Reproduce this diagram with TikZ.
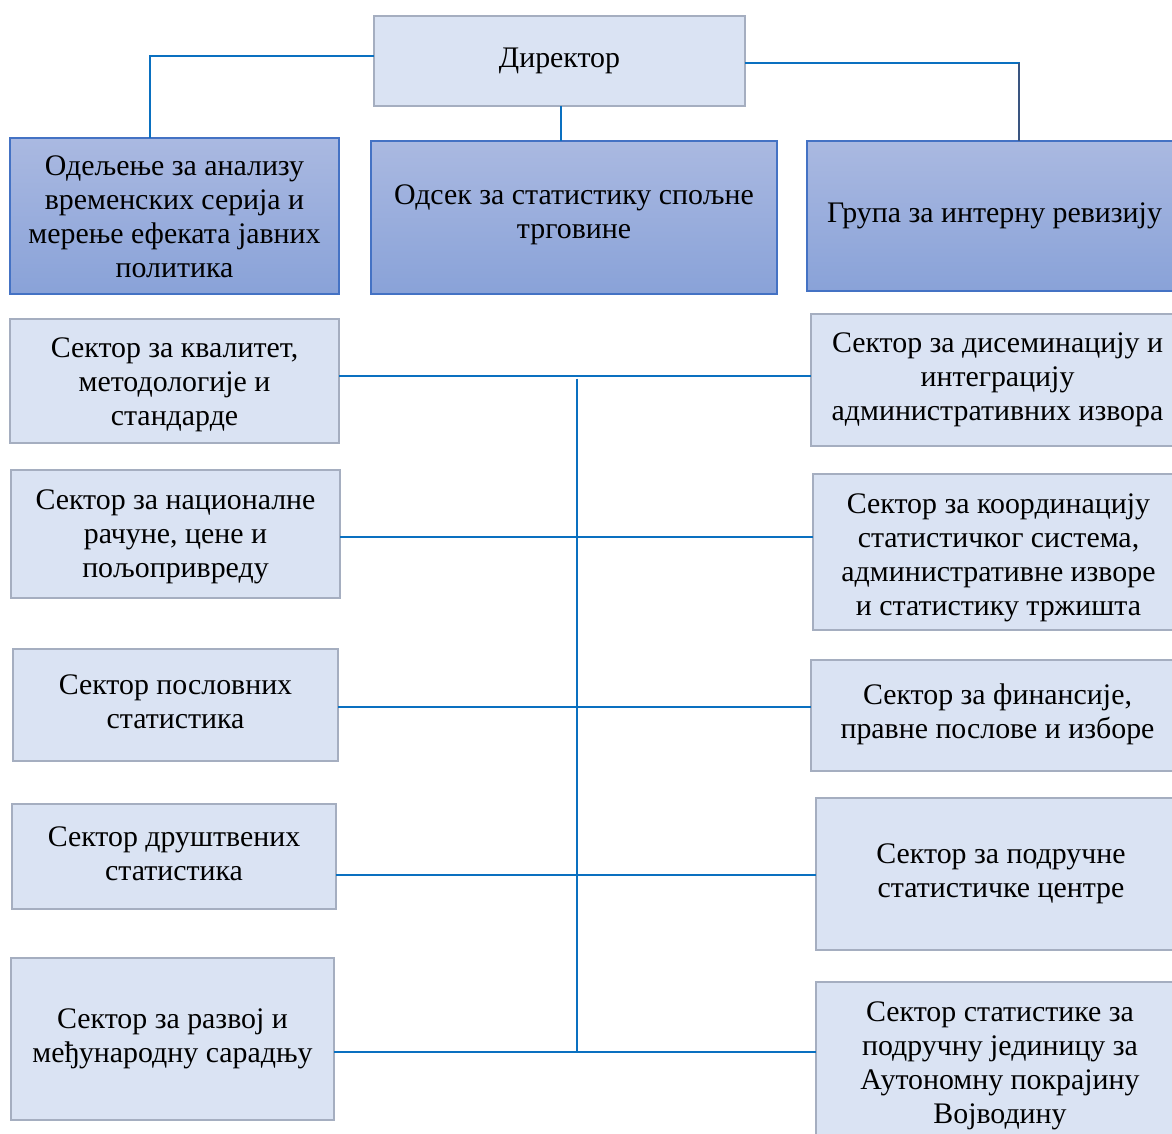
\documentclass[tikz,border=0pt]{standalone}
\usepackage{fontspec}
\setmainfont{Liberation Serif}
\usetikzlibrary{calc}
\definecolor{lightfill}{HTML}{DAE3F3}
\definecolor{lightbord}{HTML}{A5AEC0}
\definecolor{gtop}{HTML}{AAB9E1}
\definecolor{gbot}{HTML}{89A2D8}
\definecolor{darkbord}{HTML}{4472C4}
\definecolor{conn}{HTML}{0A70C0}
\definecolor{conndark}{HTML}{3A5580}
% #1 name, #2-#5 corners (px), #6 style, #7 text offset (px, down), #8 text
\newcommand\orgbox[8]{%
  \node[#6, minimum width={(#4-#2)*0.75pt}, minimum height={(#5-#3)*0.75pt}] (#1) at ({(#2+#4)/2},{(#3+#5)/2}) {};
  \node[boxtext] (#1-t) at ([yshift={-(#7)*0.75pt}]#1.center) {#8};}
\tikzset{
  boxtext/.style={font=\fontsize{22.4}{25.5}\selectfont, align=center, inner sep=0pt, outer sep=0pt, text=black},
  lightbox/.style={draw=lightbord, line width=2pt, fill=lightfill, inner sep=0pt, outer sep=0pt},
  gradbox/.style={draw=darkbord, line width=1pt, top color=gtop, bottom color=gbot, inner sep=0pt, outer sep=0pt},
  link/.style={draw=conn, line width=1.3pt},
}
\begin{document}
\begin{tikzpicture}[x=0.75pt, y=-0.75pt]
\useasboundingbox (0,0) rectangle (1172,1134);
\clip (0,0) rectangle (1172,1134);
\fill[white] (0,0) rectangle (1172,1134);
% top
\orgbox{dir}{374}{16}{745}{106}{lightbox}{0}{Директор}
\orgbox{odel}{10}{138}{339}{294}{gradbox}{1}{Одељење за анализу\\временских серија и\\мерење ефеката јавних\\политика}
\orgbox{odsek}{371}{141}{777}{294}{gradbox}{-3}{Одсек за статистику спољне\\трговине}
\orgbox{grupa}{807}{141}{1182}{291}{gradbox}{0}{Група за интерну ревизију}
% left column
\orgbox{kval}{10}{319}{339}{443}{lightbox}{4}{Сектор за квалитет,\\методологије и\\стандарде}
\orgbox{nac}{11}{470}{340}{598}{lightbox}{3}{Сектор за националне\\рачуне, цене и\\пољопривреду}
\orgbox{posl}{13}{649}{338}{761}{lightbox}{-3}{Сектор пословних\\статистика}
\orgbox{drus}{12}{804}{336}{909}{lightbox}{-3}{Сектор друштвених\\статистика}
\orgbox{razv}{11}{958}{334}{1120}{lightbox}{0}{Сектор за развој и\\међународну сарадњу}
% right column
\orgbox{dis}{811}{314}{1184}{446}{lightbox}{0}{Сектор за дисеминацију и\\интеграцију\\административних извора}
\orgbox{koord}{813}{474}{1184}{630}{lightbox}{6}{Сектор за координацију\\статистичког система,\\административне изворе\\и статистику тржишта}
\orgbox{fin}{811}{660}{1184}{771}{lightbox}{-1}{Сектор за финансије,\\правне послове и изборе}
\orgbox{podr}{816}{798}{1186}{950}{lightbox}{0}{Сектор за подручне\\статистичке центре}
\orgbox{vojv}{816}{982}{1184}{1142}{lightbox}{4}{Сектор статистике за\\подручну јединицу за\\Аутономну покрајину\\Војводину}
% connectors from director
\coordinate (cl) at (150,56);
\coordinate (cm) at (561,0);
\coordinate (cr) at (1019,63);
\draw[link] (dir.west |- cl) -| (odel.north -| cl);
\draw[link] (dir.south -| cm) -- (odsek.north -| cm);
\draw[link] (dir.east |- cr) -| (grupa.north -| cr);
\draw[draw=conndark, line width=1.3pt] (cr) -- (grupa.north -| cr);
% trunk
\coordinate (t1) at (577,376);
\coordinate (t2) at (577,537);
\coordinate (t3) at (577,707);
\coordinate (t4) at (577,875);
\coordinate (t5) at (577,1052);
\draw[link] (kval.east |- t1) -- (dis.west |- t1);
\draw[link] (nac.east |- t2) -- (koord.west |- t2);
\draw[link] (posl.east |- t3) -- (fin.west |- t3);
\draw[link] (drus.east |- t4) -- (podr.west |- t4);
\draw[link] (razv.east |- t5) -- (vojv.west |- t5);
\draw[link] ([yshift=-2pt]t1) -- (t5);
\end{tikzpicture}
\end{document}
